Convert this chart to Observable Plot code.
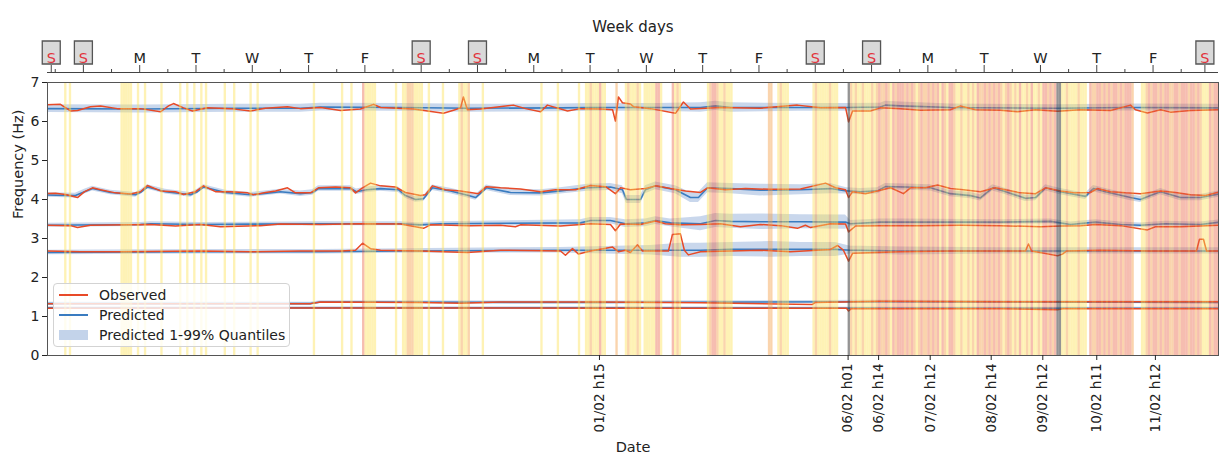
<!DOCTYPE html>
<html><head><meta charset="utf-8">
<script src="https://cdn.jsdelivr.net/npm/d3@7"></script>
<script src="https://cdn.jsdelivr.net/npm/@observablehq/plot@0.6"></script>
<style>
body{margin:0;background:#fff;font-family:"DejaVu Sans",sans-serif;}
#wrap{position:relative;width:1219px;height:459px;}
#legend{position:absolute;left:53px;top:283px;width:237px;height:64px;box-sizing:border-box;border:1px solid #d3d3d3;border-radius:4px;background:rgba(255,255,255,0.8);font-size:14px;color:#222;padding-top:1px;}
.row{display:flex;align-items:center;height:20px;}
.sw{width:29px;margin-left:5px;margin-right:11px;}
</style></head><body><div id="wrap"></div>
<script>
// x values are hours since 22/01/2022 00:00
const xDomain = [19.7, 518.9];
const yTicks = [0, 1, 2, 3, 4, 5, 6, 7];

const dayHours = [21.3, 35, 59, 83, 107, 131, 155, 179, 203, 227, 251, 275, 299, 323, 347, 371, 395, 419, 443, 467, 491, 513.1];
const dayLetters = ["S","S","M","T","W","T","F","S","S","M","T","W","T","F","S","S","M","T","W","T","F","S"];
const minorHours = [23, 47, 71, 95, 119, 143, 167, 191, 215, 239, 263, 287, 311, 335, 359, 383, 407, 431, 455, 479, 503];
const dateHours = [255, 361, 374, 396, 422, 444, 467, 492];
const dateLabels = ["01/02 h15","06/02 h01","06/02 h14","07/02 h12","08/02 h14","09/02 h12","10/02 h11","11/02 h12"];

// hourly anomaly level per day (0 none, 1 yellow, 2 orange, 3 red, g dark grey), 22/01 .. 12/02
const stripeDays = [
"000000000000000000000000",
"000101000000000000000000",
"000111110010010000001000",
"000010010010010100000001",
"000100000010010000000000",
"000000000000010000000000",
"010001000031111100000000",
"100112221111001000001000",
"000121120000010000000000",
"000000000000001000000100",
"000000100112111311000020",
"001211121011111331000031",
"210000000000012332112111",
"000000000000000220012111",
"000000000012111112111000",
"0g2121121112123223213233",
"323232123223232313213321",
"121121213223232323212321",
"213112131121332323gg1121",
"111211103223323232332323",
"332000112323323233223323",
"332332321113233300000000"
];

// predicted [hour, Hz]
const pred1 = [[16.7,6.33],[60,6.32],[100,6.34],[127.5,6.34],[136.1,6.37],[170.2,6.36],[200,6.34],[238.4,6.35],[251.2,6.36],[280,6.36],[298.1,6.36],[304.5,6.4],[310.9,6.36],[340,6.36],[360,6.36],[374.8,6.37],[376.9,6.42],[383.3,6.4],[404.6,6.36],[450,6.34],[480,6.36],[519.7,6.35]];
const pred2 = [[16.7,4.12],[31.6,4.10],[35.5,4.20],[38.9,4.28],[46.6,4.18],[57.2,4.12],[59.8,4.2],[62.3,4.32],[70.0,4.2],[80.7,4.12],[83.6,4.2],[86.2,4.32],[95.6,4.18],[106.2,4.12],[111.4,4.15],[119.0,4.2],[127.5,4.15],[132.7,4.18],[135.2,4.28],[148.9,4.28],[151.4,4.2],[155.7,4.25],[161.7,4.28],[169.3,4.25],[172.3,4.1],[176.6,4.0],[180.0,4.02],[183.8,4.3],[191.5,4.22],[199.2,4.1],[202.2,4.05],[206.8,4.3],[217.1,4.18],[229.9,4.17],[238.4,4.22],[249.9,4.3],[259.7,4.32],[264.8,4.25],[266.5,4.0],[272.5,4.0],[274.6,4.25],[278.9,4.35],[287.4,4.25],[293.8,4.05],[297.2,4.05],[301.1,4.3],[310.9,4.28],[323.6,4.24],[340.7,4.25],[353.5,4.28],[360.3,4.22],[366.3,4.2],[373.5,4.22],[376.9,4.33],[385.5,4.32],[396.1,4.3],[404.6,4.15],[413.2,4.1],[417.4,4.04],[422.6,4.3],[427.2,4.22],[436.6,4.03],[440.9,4.05],[445.2,4.3],[451.5,4.2],[462.2,4.08],[465.6,4.28],[470.7,4.2],[481.4,4.05],[485.6,4.0],[489.9,4.1],[494.2,4.2],[502.7,4.05],[511.2,4.05],[519.7,4.15]];
const pred3 = [[16.7,3.34],[59.3,3.36],[63.6,3.38],[84.9,3.36],[136.1,3.38],[170.2,3.38],[178.7,3.35],[187.2,3.38],[246.9,3.40],[251.2,3.46],[259.7,3.46],[266.1,3.38],[274.6,3.40],[278.9,3.46],[285.3,3.40],[298.1,3.38],[304.5,3.46],[310.9,3.44],[323.6,3.43],[340.7,3.43],[359.9,3.42],[362.0,3.38],[374.8,3.42],[383.3,3.42],[425.9,3.42],[447.3,3.44],[455.8,3.36],[466.5,3.42],[477.1,3.36],[485.6,3.34],[496.3,3.38],[511.2,3.36],[519.7,3.42]];
const pred4 = [[16.7,2.64],[84.9,2.66],[136.1,2.66],[170.2,2.68],[238.4,2.7],[276.8,2.7],[289.5,2.7],[298.1,2.7],[310.9,2.72],[327.9,2.72],[340.7,2.72],[355.6,2.72],[362.0,2.7],[366.3,2.7],[383.3,2.68],[425.9,2.68],[519.7,2.68]];
const pred5 = [[16.7,1.33],[131.8,1.33],[136.1,1.37],[255.4,1.36],[374.8,1.38],[519.7,1.36]];
const pred6 = [[16.7,1.22],[255.4,1.22],[383.3,1.21],[519.7,1.21]];

// observed [hour, Hz]
const obs1 = [[16.7,6.42],[25.2,6.44],[29.5,6.27],[32.5,6.28],[38.0,6.38],[42.3,6.4],[49.5,6.33],[59.3,6.33],[67.9,6.25],[71.3,6.4],[73.4,6.46],[77.7,6.35],[81.5,6.27],[87.9,6.35],[97.7,6.33],[106.2,6.27],[112.6,6.34],[122.0,6.38],[127.5,6.33],[136.1,6.36],[144.6,6.28],[153.1,6.32],[158.7,6.44],[161.7,6.36],[175.7,6.32],[188.5,6.21],[192.8,6.29],[195.8,6.35],[197.0,6.63],[198.7,6.3],[204.3,6.32],[218.3,6.42],[223.5,6.33],[229.9,6.25],[232.8,6.42],[241.4,6.27],[246.9,6.33],[255.4,6.32],[260.6,6.3],[261.8,6.01],[263.1,6.63],[264.8,6.48],[268.2,6.45],[269.5,6.38],[276.8,6.33],[287.4,6.21],[290.8,6.5],[293.8,6.32],[306.6,6.36],[323.6,6.34],[339.4,6.42],[349.2,6.35],[359.9,6.36],[361.2,5.99],[362.9,6.27],[370.5,6.27],[374.8,6.35],[383.3,6.33],[391.9,6.29],[404.6,6.3],[408.9,6.4],[415.3,6.3],[425.9,6.29],[433.2,6.25],[440.9,6.3],[450.3,6.26],[460.1,6.3],[472.9,6.28],[481.4,6.42],[483.5,6.3],[488.6,6.22],[494.2,6.3],[498.4,6.24],[507.0,6.28],[519.7,6.3]];
const obs2 = [[16.7,4.15],[23.1,4.16],[27.4,4.13],[32.5,4.05],[35.5,4.2],[38.9,4.3],[42.3,4.25],[48.7,4.17],[55.1,4.14],[59.3,4.2],[62.3,4.36],[67.9,4.22],[74.3,4.2],[77.7,4.13],[82.8,4.2],[86.2,4.35],[91.3,4.2],[97.7,4.2],[105.0,4.17],[107.5,4.12],[112.6,4.18],[116.9,4.22],[122.0,4.3],[125.4,4.17],[131.8,4.17],[135.2,4.3],[142.5,4.32],[148.9,4.3],[151.0,4.17],[154.0,4.3],[157.4,4.42],[161.7,4.35],[168.0,4.32],[172.3,4.18],[178.7,4.1],[180.8,4.12],[183.8,4.35],[189.4,4.25],[195.8,4.22],[200.0,4.18],[203.4,4.15],[206.8,4.33],[212.8,4.3],[221.3,4.27],[229.9,4.2],[236.3,4.25],[244.8,4.25],[251.2,4.36],[257.6,4.33],[261.8,4.15],[264.0,4.3],[268.2,4.25],[274.6,4.28],[278.9,4.35],[285.3,4.28],[291.7,4.22],[298.1,4.18],[301.1,4.3],[308.7,4.25],[317.3,4.28],[327.9,4.26],[340.7,4.27],[351.4,4.42],[355.6,4.3],[359.9,4.25],[361.2,4.05],[362.9,4.2],[368.4,4.15],[373.5,4.22],[379.1,4.3],[384.6,4.15],[387.6,4.3],[394.0,4.3],[399.1,4.37],[404.6,4.28],[410.2,4.25],[417.4,4.2],[423.8,4.3],[428.1,4.25],[434.5,4.17],[440.9,4.15],[445.2,4.3],[451.5,4.22],[458.0,4.17],[464.3,4.18],[467.3,4.28],[472.9,4.2],[479.3,4.17],[485.6,4.15],[494.2,4.22],[500.6,4.18],[507.0,4.12],[513.4,4.1],[519.7,4.2]];
const obs3 = [[16.7,3.34],[29.5,3.33],[32.5,3.28],[38.0,3.34],[63.6,3.36],[74.3,3.32],[84.9,3.36],[93.4,3.3],[110.5,3.33],[119.0,3.37],[136.1,3.36],[153.1,3.38],[170.2,3.37],[180.0,3.26],[183.0,3.35],[200.0,3.33],[212.8,3.34],[219.2,3.3],[221.3,3.35],[238.4,3.32],[251.2,3.38],[259.7,3.36],[261.8,3.2],[264.0,3.37],[272.5,3.36],[278.9,3.45],[283.1,3.38],[289.5,3.35],[298.1,3.36],[306.6,3.38],[315.1,3.3],[323.6,3.36],[332.2,3.33],[339.4,3.26],[342.8,3.34],[345.0,3.28],[353.5,3.38],[359.9,3.37],[361.2,3.17],[364.2,3.32],[374.8,3.33],[391.9,3.33],[408.9,3.34],[425.9,3.33],[443.0,3.3],[451.5,3.32],[460.1,3.33],[466.5,3.36],[477.1,3.33],[488.6,3.22],[492.0,3.3],[502.7,3.3],[511.2,3.32],[519.7,3.34]];
const obs4 = [[16.7,2.68],[33.8,2.66],[50.8,2.66],[84.9,2.68],[106.2,2.66],[127.5,2.68],[144.6,2.68],[151.0,2.7],[154.0,2.88],[157.4,2.74],[161.7,2.7],[178.7,2.68],[198.7,2.64],[212.8,2.7],[238.4,2.68],[240.5,2.57],[243.5,2.74],[246.1,2.6],[251.2,2.68],[260.6,2.78],[263.1,2.66],[266.1,2.7],[268.2,2.64],[271.2,2.84],[273.3,2.68],[284.4,2.68],[286.1,3.1],[289.5,3.12],[291.2,2.7],[292.9,2.58],[298.1,2.66],[323.6,2.7],[336.4,2.66],[353.5,2.72],[356.5,2.82],[359.0,2.7],[361.2,2.42],[362.9,2.62],[383.3,2.66],[404.6,2.68],[425.9,2.68],[436.6,2.68],[437.9,2.86],[439.2,2.68],[450.3,2.56],[452.4,2.6],[454.1,2.68],[468.6,2.7],[489.9,2.68],[509.5,2.68],[510.8,2.98],[512.5,2.98],[513.8,2.68],[519.7,2.68]];
const obs5 = [[16.7,1.33],[131.8,1.33],[136.1,1.37],[178.7,1.36],[195.8,1.34],[212.8,1.37],[255.4,1.37],[298.1,1.35],[345.8,1.31],[347.1,1.36],[374.8,1.39],[425.9,1.38],[519.7,1.38]];
const obs6 = [[16.7,1.21],[170.2,1.22],[264.0,1.21],[360.3,1.21],[361.2,1.14],[362.4,1.2],[425.9,1.2],[450.3,1.17],[452.4,1.2],[519.7,1.2]];

// half width of the 1-99% band, per mode, per day
const band1 = [0.1,0.1,0.1,0.1,0.1,0.1,0.1,0.1,0.1,0.1,0.1,0.1,0.12,0.12,0.1,0.1,0.09,0.09,0.09,0.09,0.09,0.09];
const band2 = [0.06,0.06,0.06,0.06,0.06,0.07,0.07,0.07,0.07,0.08,0.09,0.1,0.13,0.15,0.13,0.08,0.08,0.08,0.08,0.08,0.08,0.08];
const band3 = [0.05,0.05,0.05,0.05,0.05,0.05,0.05,0.05,0.05,0.06,0.08,0.1,0.18,0.2,0.18,0.08,0.06,0.06,0.06,0.06,0.06,0.06];
const band4 = [0.06,0.06,0.06,0.06,0.06,0.06,0.06,0.06,0.06,0.07,0.09,0.12,0.18,0.2,0.18,0.1,0.08,0.08,0.08,0.08,0.08,0.08];
const band5 = [0.035,0.035,0.035,0.035,0.035,0.035,0.035,0.035,0.035,0.035,0.035,0.035,0.035,0.035,0.035,0.035,0.035,0.035,0.035,0.035,0.035,0.035];
const band6 = [0.03,0.03,0.03,0.03,0.03,0.03,0.03,0.03,0.03,0.03,0.03,0.03,0.03,0.03,0.03,0.03,0.03,0.03,0.03,0.03,0.03,0.03];

const C = {obs: "#e84a27", pred: "#3a7cc0", band: "#c3d3ea",
  lv1: "#fde25a", lv2: "#f5a04a", lv3: "#ea6242", lvg: "#4d4d4d", sRed: "#e2333d"};

const predAll = [pred1, pred2, pred3, pred4, pred5, pred6];
const obsAll = [obs1, obs2, obs3, obs4, obs5, obs6];
const bandAll = [band1, band2, band3, band4, band5, band6];

const predRows = predAll.flatMap((s, m) => s.map(([h, v]) => ({mode: m, h, v})));
const obsRows = obsAll.flatMap((s, m) => s.map(([h, v]) => ({mode: m, h, v})));
const bandRows = predAll.flatMap((s, m) => s.map(([h, v]) => {
  const hw = bandAll[m][Math.max(0, Math.min(21, Math.floor(h / 24)))];
  return {mode: m, h, lo: v - hw, hi: v + hw};
}));
const stripes = stripeDays.flatMap((str, k) => Array.from(str).map((c, j) => ({h0: 24 * k + j, h1: 24 * k + j + 1, level: c}))).filter(d => d.level !== "0");
const dayRows = dayHours.map((h, i) => ({h, label: dayLetters[i]}));
const labelOf = new Map(dateHours.map((h, i) => [h, dateLabels[i]]));
const yTop = yTicks[yTicks.length - 1];

const boxSymbol = {draw(ctx) { ctx.rect(-9, -11.5, 18, 23); }};

const chart = Plot.plot({
  width: 1219, height: 459,
  marginLeft: 47, marginRight: 1, marginTop: 82, marginBottom: 104,
  x: {domain: xDomain, label: null},
  y: {domain: [0, 7], label: null},
  style: {fontFamily: "DejaVu Sans", fontSize: "14px", color: "#222", background: "white"},
  marks: [
    Plot.areaY(bandRows, {x: "h", y1: "lo", y2: "hi", z: "mode", fill: C.band, fillOpacity: 0.9, clip: true}),
    Plot.line(predRows, {x: "h", y: "v", z: "mode", stroke: C.pred, strokeWidth: 1.6, clip: true}),
    Plot.line(obsRows, {x: "h", y: "v", z: "mode", stroke: C.obs, strokeWidth: 1.5, clip: true}),
    Plot.rect(stripes.filter(d => d.level === "1"), {x1: "h0", x2: "h1", fill: C.lv1, fillOpacity: 0.45, clip: true}),
    Plot.rect(stripes.filter(d => d.level === "2"), {x1: "h0", x2: "h1", fill: C.lv2, fillOpacity: 0.45, clip: true}),
    Plot.rect(stripes.filter(d => d.level === "3"), {x1: "h0", x2: "h1", fill: C.lv3, fillOpacity: 0.42, clip: true}),
    Plot.rect(stripes.filter(d => d.level === "g"), {x1: "h0", x2: "h1", fill: C.lvg, fillOpacity: 0.6, clip: true}),
    Plot.frame({stroke: "#555"}),
    Plot.axisY(yTicks, {anchor: "left", tickSize: 5, tickPadding: 3, fontSize: 14, label: null, color: "#222"}),
    Plot.axisX(dateHours, {anchor: "bottom", tickSize: 5, tickPadding: 3, tickRotate: -90, fontSize: 13.5, label: null, color: "#222", tickFormat: h => labelOf.get(h)}),
    Plot.ruleY([yTop], {dy: -10, stroke: "#444"}),
    Plot.axisX(dayHours, {anchor: "top", tickSize: 8, dy: -10, label: null, color: "#444", tickFormat: () => ""}),
    Plot.axisX(minorHours, {anchor: "top", tickSize: 4, dy: -10, label: null, color: "#444", tickFormat: () => ""}),
    Plot.dot(dayRows.filter(d => d.label === "S"), {x: "h", frameAnchor: "top", dy: -30, symbol: boxSymbol, fill: "#d9d9d9", stroke: "#555", strokeWidth: 1.3}),
    Plot.text(dayRows.filter(d => d.label === "S"), {x: "h", text: "label", frameAnchor: "top", dy: -30, fill: C.sRed, fontSize: 14.5}),
    Plot.text(dayRows.filter(d => d.label !== "S"), {x: "h", text: "label", frameAnchor: "top", dy: -30, fill: "#222", fontSize: 14.5}),
    Plot.text(["Week days"], {text: d => d, frameAnchor: "top", dy: -61, fontSize: 15, fill: "#222"}),
    Plot.text(["Date"], {text: d => d, frameAnchor: "bottom", dy: 96, fontSize: 14.5, fill: "#222"}),
    Plot.text(["Frequency (Hz)"], {text: d => d, frameAnchor: "left", rotate: -90, dx: -29, fontSize: 14.5, fill: "#222"})
  ]
});

const wrap = document.getElementById("wrap");
wrap.appendChild(chart);
const legend = document.createElement("div");
legend.id = "legend";
legend.innerHTML =
  `<div class="row"><div class="sw" style="height:2px;background:${C.obs}"></div>Observed</div>` +
  `<div class="row"><div class="sw" style="height:2px;background:${C.pred}"></div>Predicted</div>` +
  `<div class="row"><div class="sw" style="height:10px;background:${C.band}"></div>Predicted 1-99% Quantiles</div>`;
wrap.appendChild(legend);
</script></body></html>
